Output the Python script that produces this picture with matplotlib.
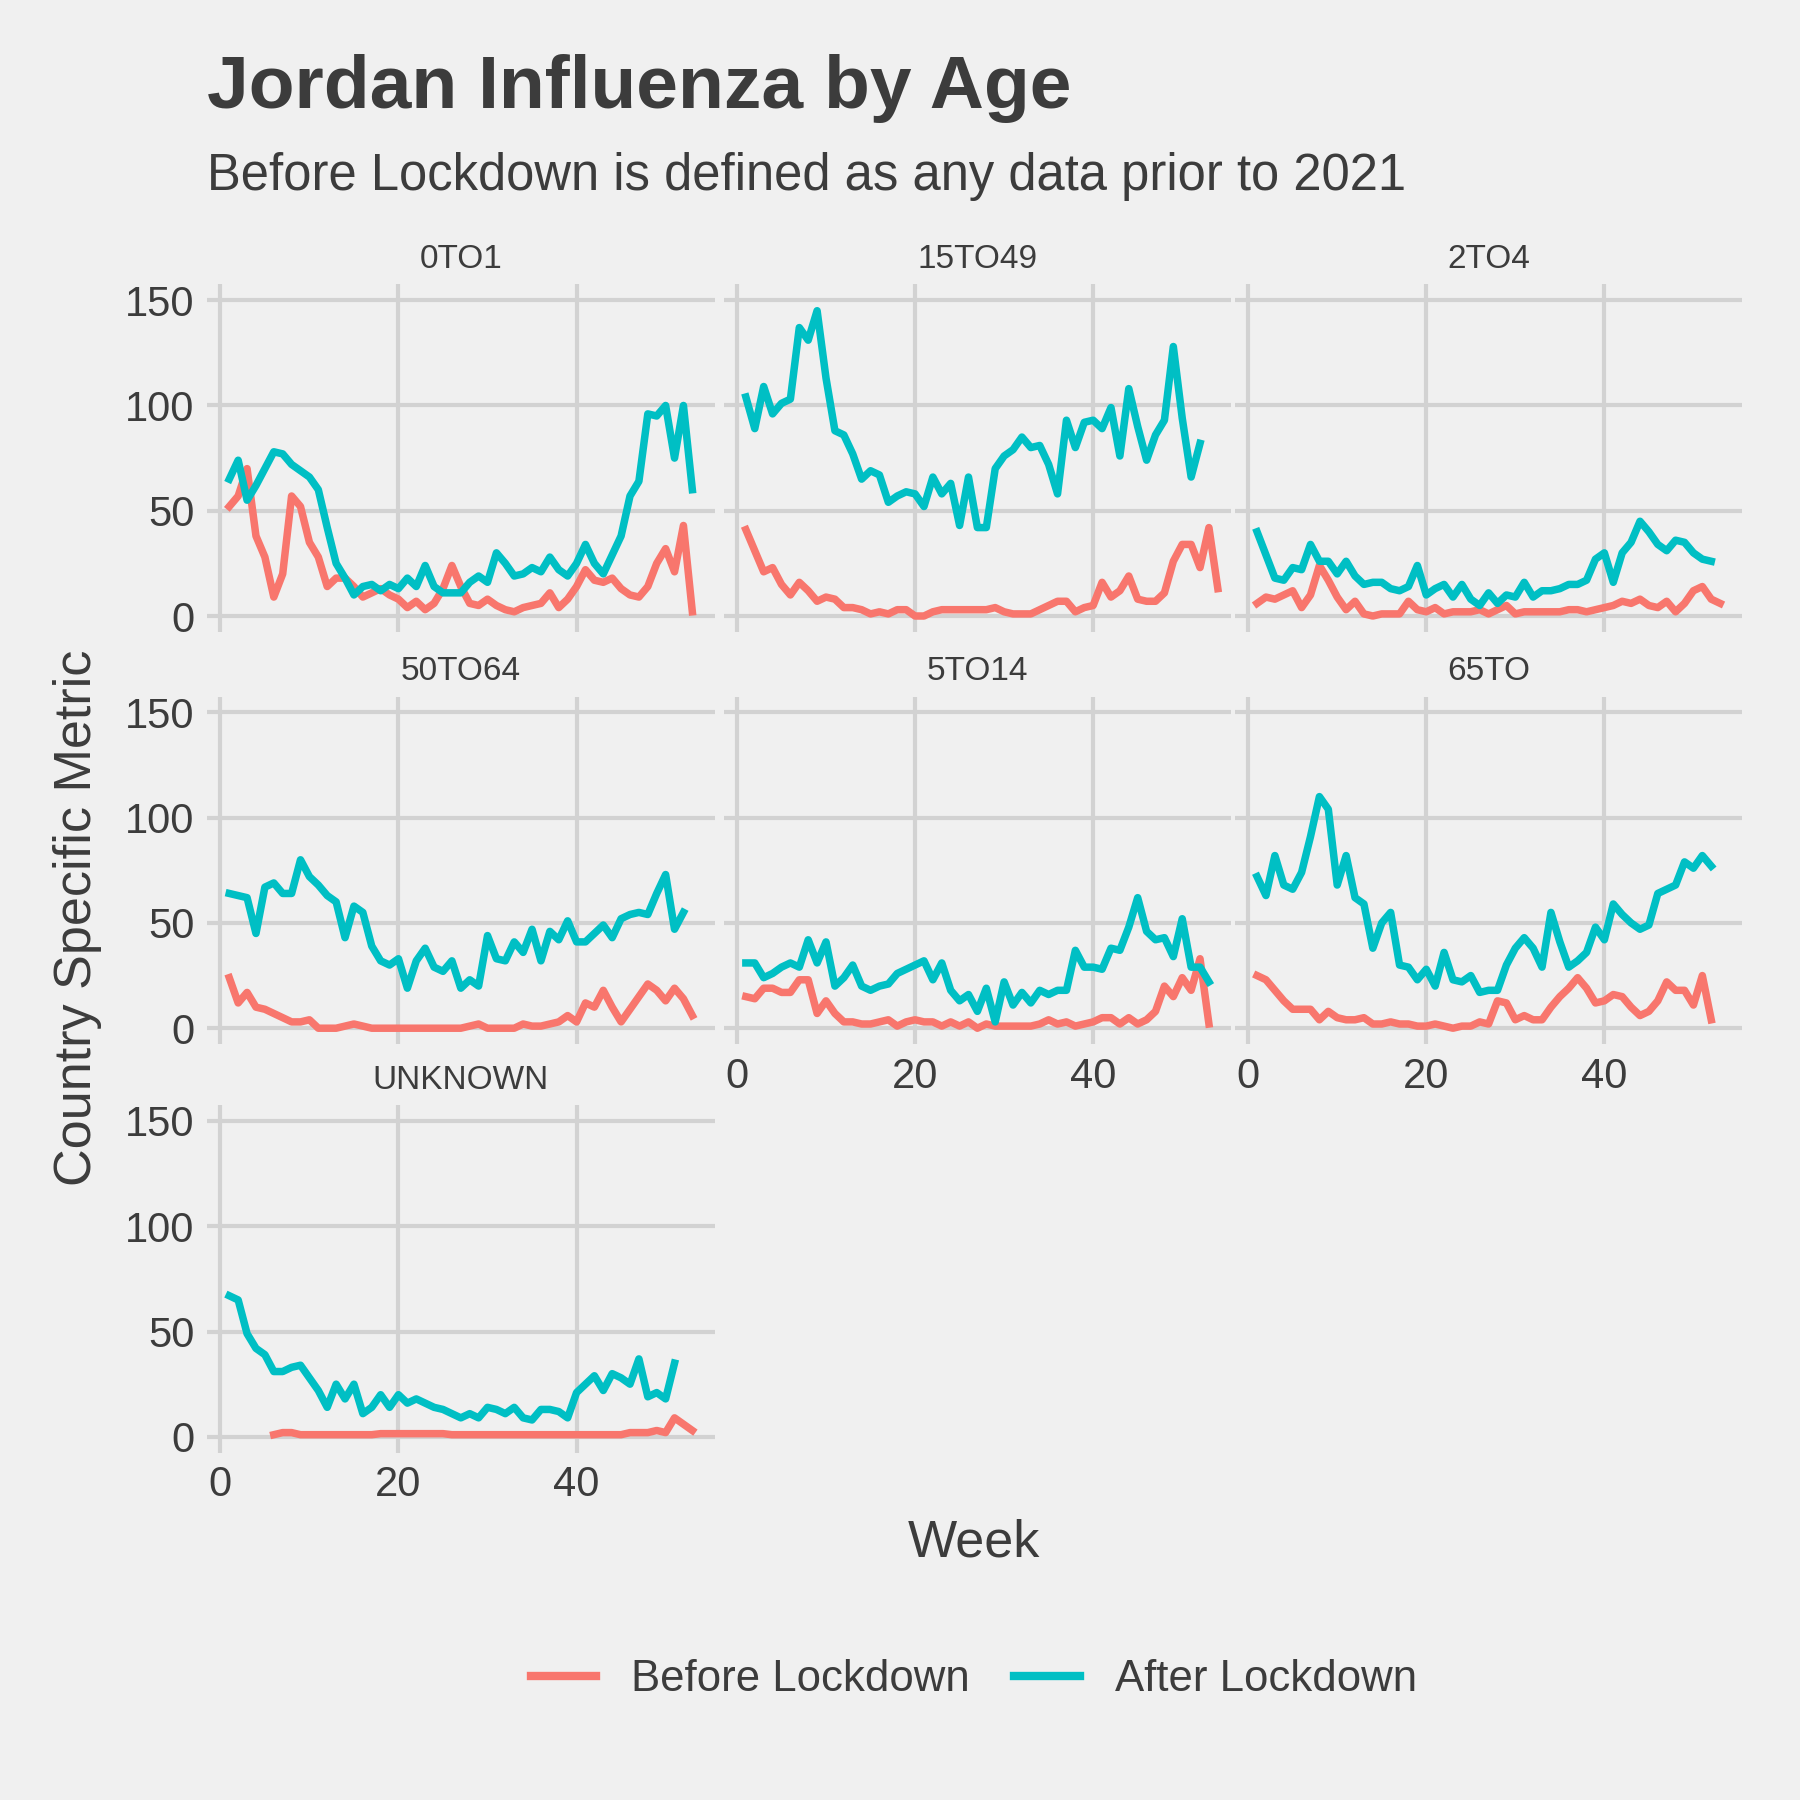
import numpy as np
import matplotlib.pyplot as plt

plt.rcParams['font.family'] = ['Liberation Sans', 'DejaVu Sans']

BG = '#F0F0F0'
TXT = '#3C3C3C'
C_BEFORE = '#F8766D'
C_AFTER = '#00BFC4'

panels = ['0TO1', '15TO49', '2TO4', '50TO64', '5TO14', '65TO', 'UNKNOWN']

# weekly values, starting week 1 unless noted
after = {
    '0TO1': [65, 74, 55, 62, 70, 78, 77, 72, 69, 66, 60, 42, 25, 18, 10, 14, 15, 12, 15, 13, 18, 14, 24, 14, 11, 11, 11, 16,
             19, 16, 30, 25, 19, 20, 23, 21, 28, 22, 19, 25, 34, 25, 20, 29, 38, 57, 64, 96, 95, 100, 75, 100, 60],
    '15TO49': [104, 89, 109, 96, 101, 103, 137, 131, 145, 113, 88, 86, 77, 65, 69, 67, 54, 57, 59, 58, 52, 66, 58, 63, 43,
               66, 42, 42, 70, 76, 79, 85, 80, 81, 72, 58, 93, 80, 92, 93, 89, 99, 76, 108, 90, 74, 86, 93, 128, 94, 66, 82],
    '2TO4': [40, 29, 18, 17, 23, 22, 34, 26, 26, 20, 26, 19, 15, 16, 16, 13, 12, 14, 24, 10, 13, 15, 9, 15, 8, 5, 11, 6,
             10, 9, 16, 9, 12, 12, 13, 15, 15, 17, 27, 30, 16, 30, 35, 45, 40, 34, 31, 36, 35, 30, 27, 26],
    '50TO64': [64, 63, 62, 45, 67, 69, 64, 64, 80, 72, 68, 63, 60, 43, 58, 55, 39, 32, 30, 33, 19, 32, 38, 29, 27, 32, 19,
               23, 20, 44, 33, 32, 41, 36, 47, 32, 46, 42, 51, 41, 41, 45, 49, 43, 52, 54, 55, 54, 64, 73, 47, 55],
    '5TO14': [31, 31, 24, 26, 29, 31, 29, 42, 31, 41, 20, 24, 30, 20, 18, 20, 21, 26, 28, 30, 32, 23, 31, 18, 13, 16, 8, 19,
              3, 22, 11, 17, 12, 18, 16, 18, 18, 37, 29, 29, 28, 38, 37, 48, 62, 46, 42, 43, 34, 52, 29, 29, 22],
    '65TO': [72, 63, 82, 68, 66, 74, 91, 110, 104, 68, 82, 62, 59, 38, 50, 55, 30, 29, 23, 28, 20, 36, 23, 22, 25, 17, 18,
             18, 30, 38, 43, 38, 29, 55, 41, 29, 32, 36, 48, 42, 59, 54, 50, 47, 49, 64, 66, 68, 79, 76, 82, 77],
    'UNKNOWN': [67, 65, 49, 42, 39, 31, 31, 33, 34, 28, 22, 14, 25, 18, 25, 11, 14, 20, 14, 20, 16, 18, 16, 14, 13, 11, 9,
                11, 9, 14, 13, 11, 14, 9, 8, 13, 13, 12, 9, 21, 25, 29, 22, 30, 28, 25, 37, 19, 21, 18, 35],
}
before = {
    '0TO1': [52, 57, 70, 38, 28, 9, 20, 57, 52, 35, 28, 14, 18, 18, 14, 9, 11, 13, 10, 8, 4, 7, 3, 6, 13, 24, 14, 6, 5, 8,
             5, 3, 2, 4, 5, 6, 11, 4, 8, 14, 22, 17, 16, 18, 13, 10, 9, 14, 25, 32, 21, 43, 2],
    '15TO49': [41, 31, 21, 23, 15, 10, 16, 12, 7, 9, 8, 4, 4, 3, 1, 2, 1, 3, 3, 0, 0, 2, 3, 3, 3, 3, 3, 3, 4, 2, 1, 1, 1,
               3, 5, 7, 7, 2, 4, 5, 16, 9, 12, 19, 8, 7, 7, 11, 26, 34, 34, 23, 42, 13],
    '2TO4': [6, 9, 8, 10, 12, 4, 10, 24, 17, 9, 3, 7, 1, 0, 1, 1, 1, 7, 3, 2, 4, 1, 2, 2, 2, 3, 1, 3, 5, 1, 2, 2, 2, 2, 2,
             3, 3, 2, 3, 4, 5, 7, 6, 8, 5, 4, 7, 2, 6, 12, 14, 8, 6],
    '50TO64': [24, 12, 17, 10, 9, 7, 5, 3, 3, 4, 0, 0, 0, 1, 2, 1, 0, 0, 0, 0, 0, 0, 0, 0, 0, 0, 0, 1, 2, 0, 0, 0, 0, 2, 1,
               1, 2, 3, 6, 3, 12, 10, 18, 10, 3, 9, 15, 21, 18, 13, 19, 14, 6],
    '5TO14': [15, 14, 19, 19, 17, 17, 23, 23, 7, 13, 7, 3, 3, 2, 2, 3, 4, 1, 3, 4, 3, 3, 1, 3, 1, 3, 0, 2, 1, 1, 1, 1, 1,
              2, 4, 2, 3, 1, 2, 3, 5, 5, 2, 5, 2, 4, 8, 20, 15, 24, 18, 33, 2],
    '65TO': [25, 23, 18, 13, 9, 9, 9, 4, 8, 5, 4, 4, 5, 2, 2, 3, 2, 2, 1, 1, 2, 1, 0, 1, 1, 3, 2, 13, 12, 4, 6, 4, 4, 10,
             15, 19, 24, 19, 12, 13, 16, 15, 10, 6, 8, 13, 22, 18, 18, 11, 25, 4],
    'UNKNOWN': [1, 2, 2, 1, 1, 1, 1, 1, 1, 1, 1, 1, 1.5, 1.5, 1.5, 1.5, 1.5, 1.5, 1.5, 1.5, 1, 1, 1, 1, 1, 1, 1, 1, 1, 1,
                1, 1, 1, 1, 1, 1, 1, 1, 1, 1, 2, 2, 2, 3, 2, 9, 6, 3],
}
start_before = {'UNKNOWN': 6}

fig = plt.figure(figsize=(6, 6), dpi=300, facecolor=BG)
lefts = [0.115, 0.402, 0.686]
bottoms = [0.649, 0.420, 0.193]
W, H = 0.282, 0.193

for i, name in enumerate(panels):
    r, c = divmod(i, 3)
    ax = fig.add_axes([lefts[c], bottoms[r], W, H], facecolor=BG)
    a = after[name]
    b = before[name]
    s = start_before.get(name, 1)
    ax.plot(np.arange(s, s + len(b)), b, color=C_BEFORE, lw=1.8)
    ax.plot(np.arange(1, len(a) + 1), a, color=C_AFTER, lw=1.8)
    ax.set_xlim(-1.5, 55.5)
    ax.set_ylim(-7.5, 157.5)
    ax.set_xticks([0, 20, 40])
    ax.set_yticks([0, 50, 100, 150])
    ax.grid(True, color='#D2D2D2', lw=1.0)
    ax.set_axisbelow(True)
    for sp in ax.spines.values():
        sp.set_visible(False)
    ax.tick_params(length=0, labelsize=10, colors=TXT, pad=3)
    if c != 0:
        ax.set_yticklabels([])
    show_x = (r == 2) or (r == 1 and c > 0)
    if not show_x:
        ax.set_xticklabels([])
    ax.set_title(name, fontsize=8, color=TXT, pad=4)

fig.text(0.115, 0.951, 'Jordan Influenza by Age', fontsize=18, fontweight='bold', color=TXT, va='center')
fig.text(0.115, 0.902, 'Before Lockdown is defined as any data prior to 2021', fontsize=12.2, color=TXT, va='center')
fig.text(0.043, 0.49, 'Country Specific Metric', fontsize=12.5, color=TXT, rotation=90, va='center', ha='center')
fig.text(0.541, 0.143, 'Week', fontsize=12.5, color=TXT, ha='center', va='center')

handles = [plt.Line2D([], [], color=C_BEFORE, lw=2), plt.Line2D([], [], color=C_AFTER, lw=2)]
leg = fig.legend(handles, ['Before Lockdown', 'After Lockdown'], loc='center', bbox_to_anchor=(0.541, 0.067),
                 ncol=2, frameon=False, fontsize=10.5, handlelength=1.5, handletextpad=0.8, columnspacing=1.0)
for t in leg.get_texts():
    t.set_color(TXT)

fig.savefig('out.png', dpi=300, facecolor=BG)
